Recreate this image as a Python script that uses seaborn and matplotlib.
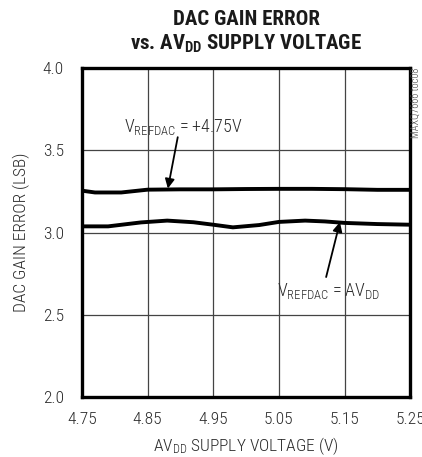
import matplotlib
matplotlib.use("Agg")
import matplotlib.pyplot as plt
import pandas as pd
import seaborn as sns

# --- data ---
x_ref = [4.75, 4.77, 4.81, 4.85, 4.90, 4.95, 5.00, 5.05, 5.10, 5.15, 5.20, 5.25]
err_ref475 = [3.255, 3.244, 3.244, 3.261, 3.263, 3.263, 3.265, 3.266, 3.266, 3.264, 3.260, 3.260]

x_avdd = [4.75, 4.79, 4.84, 4.88, 4.92, 4.95, 4.98, 5.02, 5.05, 5.09, 5.12, 5.15, 5.20, 5.25]
err_avdd = [3.038, 3.038, 3.062, 3.073, 3.063, 3.048, 3.032, 3.046, 3.065, 3.073, 3.068, 3.059, 3.052, 3.048]

x_ticks = [4.75, 4.85, 4.95, 5.05, 5.15, 5.25]
y_ticks = [2.0, 2.5, 3.0, 3.5, 4.0]

df = pd.concat([
    pd.DataFrame({"v": x_ref, "err": err_ref475, "series": "ref475"}),
    pd.DataFrame({"v": x_avdd, "err": err_avdd, "series": "avdd"}),
])

sns.set_theme(style="white")
plt.rcParams["font.family"] = ["Roboto Condensed", "DejaVu Sans"]
plt.rcParams["font.stretch"] = "condensed"
plt.rcParams["font.weight"] = "light"
plt.rcParams["axes.labelweight"] = "light"
plt.rcParams["mathtext.fontset"] = "custom"
plt.rcParams["mathtext.rm"] = "Roboto Condensed:light"
plt.rcParams["mathtext.it"] = "Roboto Condensed:light"
plt.rcParams["mathtext.bf"] = "Roboto Condensed:bold"

TXT = "#2a2a2a"

fig = plt.figure(figsize=(4.22, 4.57), dpi=100)
ax = fig.add_axes([0.194, 0.131, 0.778, 0.720])

sns.lineplot(data=df, x="v", y="err", hue="series", palette=["black", "black"],
             linewidth=2.8, legend=False, ax=ax, sort=False)

ax.set_xlim(4.75, 5.25)
ax.set_ylim(2.0, 4.0)
ax.set_xticks(x_ticks)
ax.set_yticks(y_ticks)
ax.set_xticklabels([f"{t:.2f}" for t in x_ticks])
ax.set_yticklabels([f"{t:.1f}" for t in y_ticks])
ax.tick_params(length=0, labelsize=12.5, colors=TXT)
ax.tick_params(axis="x", pad=11)
ax.tick_params(axis="y", pad=13)
ax.grid(True, color="#444444", linewidth=0.9)
for s in ax.spines.values():
    s.set_linewidth(2.4)
    s.set_color("black")

ax.set_xlabel(r"AV$_{\mathrm{DD}}$ SUPPLY VOLTAGE (V)", fontsize=12.5, color=TXT,
              labelpad=6, fontweight="light")
ax.set_ylabel("DAC GAIN ERROR (LSB)", fontsize=12.5, color=TXT, labelpad=9,
              fontweight="light")

# two-line bold title, placed on baselines
fig.text(0.583, 1 - 25 / 457, "DAC GAIN ERROR", fontsize=15, fontweight="heavy",
         ha="center", va="baseline", color="#1a1a1a")
fig.text(0.583, 1 - 50 / 457, r"vs. AV$_{\mathbf{DD}}$ SUPPLY VOLTAGE", fontsize=15,
         fontweight="heavy", ha="center", va="baseline", color="#1a1a1a")

# annotations
ax.text(4.904, 3.64, r"V$_{\mathrm{REFDAC}}$ = +4.75V", fontsize=13,
        ha="center", va="center", color=TXT)
ax.annotate("", xy=(4.881, 3.268), xytext=(4.896, 3.58),
            arrowprops=dict(arrowstyle="-|>", color="black", lw=1.3,
                            mutation_scale=14, shrinkA=0, shrinkB=0))
ax.text(5.126, 2.64, r"V$_{\mathrm{REFDAC}}$ = AV$_{\mathrm{DD}}$", fontsize=13,
        ha="center", va="center", color=TXT)
ax.annotate("", xy=(5.143, 3.064), xytext=(5.122, 2.73),
            arrowprops=dict(arrowstyle="-|>", color="black", lw=1.3,
                            mutation_scale=14, shrinkA=0, shrinkB=0))

fig.text(0.986, 1 - 68 / 457, "MAXQ7666 toc08", rotation=90, fontsize=7.5,
         ha="center", va="top", color="#444444")

fig.savefig("out.png", dpi=100)
